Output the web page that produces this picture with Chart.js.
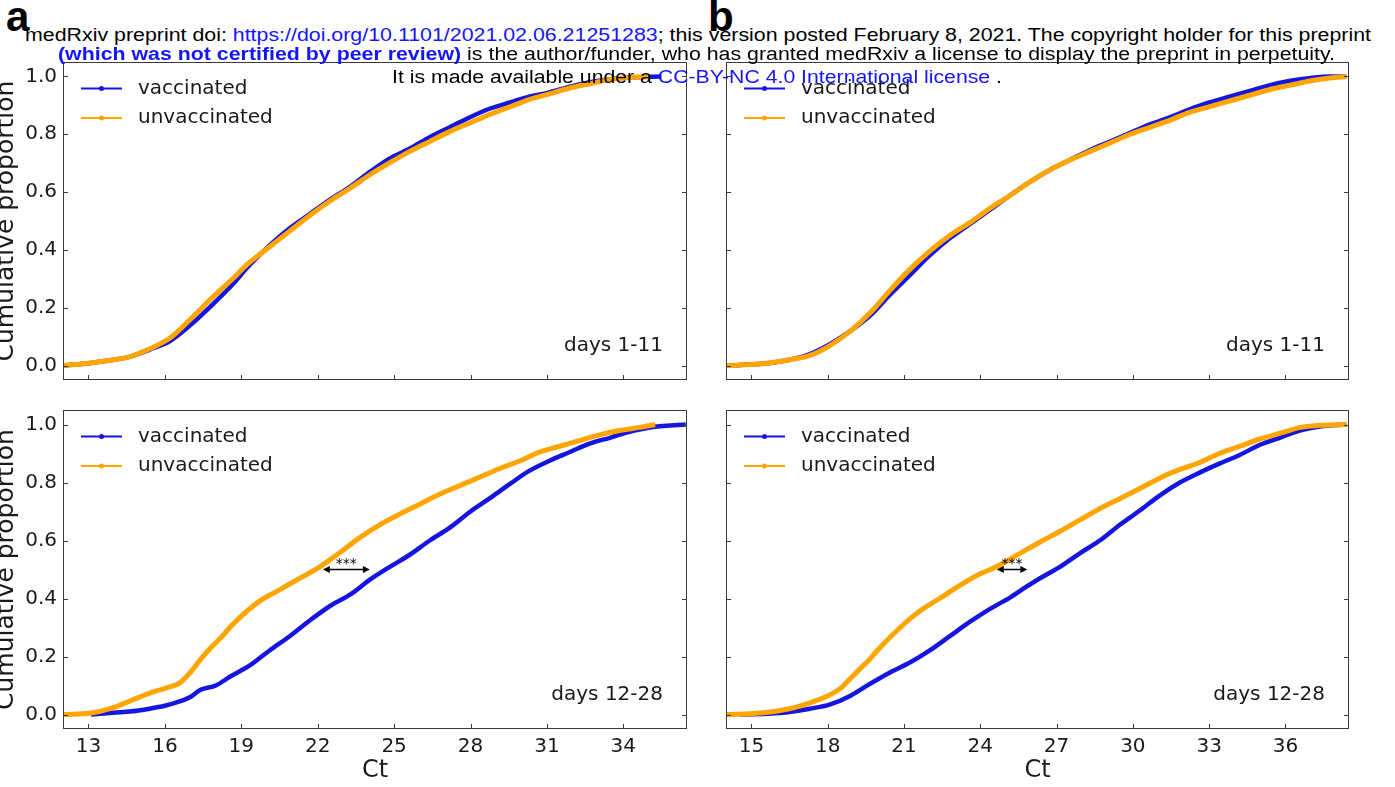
<!DOCTYPE html>
<html>
<head>
<meta charset="utf-8">
<script src="https://cdn.jsdelivr.net/npm/chart.js@4"></script>
<style>
html, body { margin: 0; padding: 0; background: #fff; width: 1395px; height: 787px; overflow: hidden; }
.panel { position: absolute; }
.hdr { position: absolute; white-space: nowrap; font-family: 'Liberation Sans', Arial, sans-serif; font-size: 18px; line-height: 18px; color: #000; transform-origin: 0 0; z-index: 5; }
.hdr .lnk { color: #1414ff; }
.hdr b { color: #1414ff; }
.tag { position: absolute; font-family: 'Liberation Sans', Arial, sans-serif; font-weight: bold; font-size: 42px; line-height: 42px; color: #000; z-index: 6; }
</style>
</head>
<body>
<div class="tag" style="left:6px;top:-4px;">a</div>
<div class="tag" style="left:708px;top:-4px;">b</div>
<div class="hdr" id="line1" style="left:25px;top:26px;">medRxiv preprint doi: <span class="lnk">https://doi.org/10.1101/2021.02.06.21251283</span>; this version posted February 8, 2021. The copyright holder for this preprint</div>
<div class="hdr" id="line2" style="left:58px;top:45px;"><b>(which was not certified by peer review)</b> is the author/funder, who has granted medRxiv a license to display the preprint in perpetuity.</div>
<div class="hdr" id="line3" style="left:392px;top:68px;">It is made available under a <span class="lnk">CC-BY-NC 4.0 International license</span> .</div>

<canvas id="chartA1" class="panel" width="700" height="338" style="left:-4px;top:52px;"></canvas>
<canvas id="chartA2" class="panel" width="700" height="385" style="left:-4px;top:400px;"></canvas>
<canvas id="chartB1" class="panel" width="645" height="338" style="left:716px;top:52px;"></canvas>
<canvas id="chartB2" class="panel" width="645" height="385" style="left:716px;top:400px;"></canvas>

<script>
// tick values
const yTicks = [0, 0.2, 0.4, 0.6, 0.8, 1.0];
const xTicksA = [13, 16, 19, 22, 25, 28, 31, 34];
const xTicksB = [15, 18, 21, 24, 27, 30, 33, 36];

// panel a, days 1-11  [Ct, cumulative proportion]
const aEarlyVac = [[12.0,0.0],[13.0,0.008],[14.0,0.02],[14.6,0.03],[15.4,0.055],[16.2,0.085],[17.0,0.14],[17.8,0.205],[18.6,0.275],[19.3,0.345],[20.1,0.415],[20.9,0.475],[21.7,0.525],[22.5,0.575],[23.3,0.62],[24.05,0.67],[24.8,0.715],[25.6,0.75],[26.4,0.79],[27.2,0.825],[28.0,0.86],[28.8,0.89],[29.55,0.91],[30.3,0.93],[31.1,0.945],[31.9,0.965],[32.7,0.98],[33.5,0.99],[34.3,0.997],[35.5,1.0]];
const aEarlyUnvac = [[12.0,0.0],[13.0,0.008],[14.0,0.02],[14.6,0.03],[15.4,0.058],[16.2,0.095],[17.0,0.16],[17.8,0.23],[18.6,0.295],[19.3,0.355],[20.1,0.41],[20.9,0.465],[21.7,0.52],[22.5,0.57],[23.3,0.615],[24.05,0.66],[24.8,0.70],[25.6,0.74],[26.4,0.775],[27.2,0.81],[28.0,0.84],[28.8,0.87],[29.55,0.895],[30.3,0.92],[31.1,0.94],[31.9,0.96],[32.7,0.975],[33.5,0.99],[34.3,0.997],[35.0,1.0]];

// panel a, days 12-28
const aLateVac = [[13.1,0.0],[13.85,0.005],[14.6,0.01],[15.4,0.02],[16.0,0.03],[16.4,0.04],[17.0,0.06],[17.4,0.085],[18.0,0.10],[18.55,0.13],[19.35,0.17],[20.1,0.22],[20.9,0.27],[21.7,0.325],[22.5,0.375],[23.3,0.415],[24.05,0.465],[24.85,0.51],[25.6,0.55],[26.4,0.60],[27.2,0.645],[28.0,0.70],[28.75,0.745],[29.55,0.795],[30.3,0.84],[31.1,0.875],[31.9,0.905],[32.7,0.935],[33.5,0.955],[34.25,0.975],[35.05,0.99],[36.45,1.0]];
const aLateUnvac = [[12.0,0.0],[13.1,0.005],[13.85,0.02],[14.45,0.04],[15.0,0.06],[15.6,0.08],[16.2,0.095],[16.6,0.11],[17.0,0.145],[17.4,0.19],[17.8,0.23],[18.2,0.265],[18.55,0.30],[18.95,0.335],[19.7,0.39],[20.5,0.43],[21.3,0.47],[22.1,0.51],[22.9,0.56],[23.65,0.61],[24.45,0.655],[25.2,0.69],[26.0,0.725],[26.8,0.76],[27.6,0.79],[28.4,0.82],[29.2,0.85],[29.95,0.875],[30.7,0.905],[31.5,0.925],[32.3,0.945],[33.1,0.965],[33.9,0.98],[34.65,0.99],[35.25,1.0]];

// panel b, days 1-11
const bEarlyVac = [[14.0,0.0],[15.3,0.005],[16.5,0.02],[17.3,0.04],[18.1,0.075],[18.9,0.12],[19.7,0.175],[20.45,0.245],[21.2,0.31],[22.0,0.38],[22.8,0.44],[23.6,0.49],[24.4,0.54],[25.2,0.59],[25.95,0.635],[26.7,0.675],[27.5,0.71],[28.3,0.745],[29.1,0.775],[29.9,0.805],[30.7,0.835],[31.5,0.86],[32.2,0.885],[33.0,0.91],[33.8,0.93],[34.6,0.95],[35.4,0.97],[36.2,0.985],[37.0,0.995],[37.75,1.0],[38.4,1.0]];
const bEarlyUnvac = [[14.0,0.0],[15.3,0.005],[16.5,0.02],[17.3,0.035],[18.1,0.07],[18.9,0.12],[19.7,0.185],[20.45,0.26],[21.2,0.33],[22.0,0.395],[22.8,0.45],[23.6,0.495],[24.4,0.545],[25.2,0.59],[25.95,0.635],[26.7,0.675],[27.5,0.71],[28.3,0.74],[29.1,0.77],[29.9,0.80],[30.7,0.825],[31.5,0.85],[32.2,0.875],[33.0,0.895],[33.8,0.915],[34.6,0.935],[35.4,0.955],[36.2,0.97],[37.0,0.985],[37.75,0.995],[38.4,1.0]];

// panel b, days 12-28
const bLateVac = [[14.55,0.0],[16.1,0.005],[17.3,0.02],[18.1,0.035],[18.9,0.065],[19.65,0.105],[20.45,0.145],[21.25,0.18],[22.0,0.22],[22.8,0.27],[23.6,0.32],[24.4,0.365],[25.2,0.405],[25.8,0.44],[26.35,0.47],[27.15,0.51],[27.9,0.555],[28.7,0.60],[29.5,0.655],[30.3,0.705],[31.05,0.755],[31.85,0.80],[32.65,0.835],[33.4,0.865],[34.2,0.895],[35.0,0.93],[35.8,0.955],[36.6,0.98],[37.35,0.993],[38.4,1.0]];
const bLateUnvac = [[14.0,0.0],[15.35,0.005],[16.5,0.02],[17.3,0.04],[17.9,0.06],[18.5,0.09],[18.9,0.125],[19.3,0.16],[19.65,0.19],[20.05,0.23],[20.85,0.30],[21.6,0.355],[22.4,0.40],[23.2,0.445],[24.0,0.485],[24.65,0.51],[25.55,0.555],[26.35,0.595],[27.1,0.63],[27.9,0.67],[28.7,0.71],[29.5,0.745],[30.3,0.78],[31.05,0.815],[31.85,0.845],[32.65,0.87],[33.4,0.90],[34.2,0.925],[35.0,0.95],[35.8,0.97],[36.6,0.99],[37.35,0.997],[38.4,1.0]];

// significance arrows at proportion 0.5 (Ct from, Ct to)
const arrowA = [22.2, 24.05];
const arrowB = [24.65, 25.85];

const BLUE = '#1515e0';
const ORANGE = '#ffa500';
const TEXT = '#1a1a1a';
const FONT = "'DejaVu Sans', sans-serif";

const framePlugin = {
    id: 'frame',
    afterDatasetsDraw(chart, args, opts) {
        const { ctx, chartArea: a } = chart;
        const x = chart.scales.x, y = chart.scales.y;
        ctx.save();

        // box and inward ticks
        ctx.strokeStyle = '#3a3a3a';
        ctx.lineWidth = 1;
        ctx.strokeRect(a.left + 0.5, a.top + 0.5, a.right - a.left - 1, a.bottom - a.top - 1);
        ctx.beginPath();
        x.ticks.forEach(t => {
            const px = Math.round(x.getPixelForValue(t.value)) + 0.5;
            ctx.moveTo(px, a.bottom);
            ctx.lineTo(px, a.bottom - 5);
        });
        y.ticks.forEach(t => {
            const py = Math.round(y.getPixelForValue(t.value)) + 0.5;
            ctx.moveTo(a.left, py);
            ctx.lineTo(a.left + 5, py);
            ctx.moveTo(a.right, py);
            ctx.lineTo(a.right - 5, py);
        });
        ctx.stroke();

        // legend, matplotlib style
        const entries = chart.data.datasets.slice().sort((p, q) => p.legendRank - q.legendRank);
        ctx.font = '20px ' + FONT;
        ctx.textBaseline = 'middle';
        ctx.textAlign = 'left';
        entries.forEach((ds, i) => {
            const ly = a.top + 26.5 + i * 29.5;
            ctx.strokeStyle = ds.borderColor;
            ctx.lineWidth = 2;
            ctx.beginPath();
            ctx.moveTo(a.left + 18, ly);
            ctx.lineTo(a.left + 59, ly);
            ctx.stroke();
            ctx.fillStyle = ds.borderColor;
            ctx.beginPath();
            ctx.arc(a.left + 38.5, ly, 2.5, 0, Math.PI * 2);
            ctx.fill();
            ctx.fillStyle = TEXT;
            ctx.fillText(ds.label, a.left + 75, ly);
        });

        // period label
        ctx.textAlign = 'right';
        ctx.fillText(opts.period, a.right - 24, a.bottom - 34);

        // significance arrow
        if (opts.arrow) {
            const x1 = x.getPixelForValue(opts.arrow[0]);
            const x2 = x.getPixelForValue(opts.arrow[1]);
            const ay = y.getPixelForValue(0.5);
            ctx.strokeStyle = '#000';
            ctx.fillStyle = '#000';
            ctx.lineWidth = 1.5;
            ctx.beginPath();
            ctx.moveTo(x1 + 4, ay);
            ctx.lineTo(x2 - 4, ay);
            ctx.stroke();
            [[x1, 1], [x2, -1]].forEach(([hx, dir]) => {
                ctx.beginPath();
                ctx.moveTo(hx, ay);
                ctx.lineTo(hx + dir * 7, ay - 3.5);
                ctx.lineTo(hx + dir * 7, ay + 3.5);
                ctx.closePath();
                ctx.fill();
            });
            ctx.font = '14px ' + FONT;
            ctx.textAlign = 'center';
            ctx.textBaseline = 'alphabetic';
            ctx.fillText('***', (x1 + x2) / 2, ay - 2);
        }
        ctx.restore();
    }
};

function toPoints(list) {
    return list.map(([ct, p]) => ({ x: ct, y: p }));
}

function buildPanel(canvasId, cfg) {
    const ctx = document.getElementById(canvasId).getContext('2d');
    return new Chart(ctx, {
        type: 'line',
        data: {
            datasets: [
                {
                    label: 'unvaccinated',
                    data: toPoints(cfg.unvac),
                    borderColor: ORANGE,
                    backgroundColor: ORANGE,
                    borderWidth: 5,
                    pointRadius: 0,
                    cubicInterpolationMode: 'monotone',
                    order: 0,
                    legendRank: 1
                },
                {
                    label: 'vaccinated',
                    data: toPoints(cfg.vac),
                    borderColor: BLUE,
                    backgroundColor: BLUE,
                    borderWidth: 4.5,
                    pointRadius: 0,
                    cubicInterpolationMode: 'monotone',
                    order: 1,
                    legendRank: 0
                }
            ]
        },
        options: {
            responsive: false,
            animation: false,
            events: [],
            layout: { padding: cfg.padding },
            scales: {
                x: {
                    type: 'linear',
                    min: cfg.xMin,
                    max: cfg.xMax,
                    afterBuildTicks: s => { s.ticks = cfg.xTicks.map(v => ({ value: v })); },
                    afterFit: s => {
                        s.height = cfg.showX ? 56 : 0;
                        s.paddingLeft = 0; s.paddingRight = 0;
                        s.paddingTop = 0; s.paddingBottom = 0;
                    },
                    grid: { display: false, drawTicks: false },
                    border: { display: false },
                    ticks: {
                        display: cfg.showX,
                        autoSkip: false,
                        maxRotation: 0,
                        padding: 6,
                        color: TEXT,
                        font: { family: FONT, size: 20 },
                        callback: v => String(v)
                    },
                    title: {
                        display: cfg.showX,
                        text: 'Ct',
                        color: TEXT,
                        padding: 0,
                        font: { family: FONT, size: 24 }
                    }
                },
                y: {
                    type: 'linear',
                    min: -0.05,
                    max: 1.05,
                    afterBuildTicks: s => { s.ticks = yTicks.map(v => ({ value: v })); },
                    afterFit: s => {
                        s.width = cfg.yWidth;
                        s.paddingLeft = 0; s.paddingRight = 0;
                        s.paddingTop = 0; s.paddingBottom = 0;
                    },
                    grid: { display: false, drawTicks: false },
                    border: { display: false },
                    ticks: {
                        display: cfg.showY,
                        padding: 6,
                        color: TEXT,
                        font: { family: FONT, size: 20 },
                        callback: v => Number(v).toFixed(1)
                    },
                    title: {
                        display: cfg.showY,
                        text: 'Cumulative proportion',
                        color: TEXT,
                        padding: { top: -5, bottom: 0 },
                        font: { family: FONT, size: 25 }
                    }
                }
            },
            plugins: {
                legend: { display: false },
                tooltip: { enabled: false },
                frame: { period: cfg.period, arrow: cfg.arrow }
            }
        },
        plugins: [framePlugin]
    });
}

buildPanel('chartA1', {
    vac: aEarlyVac, unvac: aEarlyUnvac, xMin: 12, xMax: 36.5, xTicks: xTicksA,
    showX: false, showY: true, yWidth: 67, period: 'days 1-11',
    padding: { top: 10, bottom: 10, left: 0, right: 9 }
});
buildPanel('chartA2', {
    vac: aLateVac, unvac: aLateUnvac, xMin: 12, xMax: 36.5, xTicks: xTicksA,
    showX: true, showY: true, yWidth: 67, period: 'days 12-28', arrow: arrowA,
    padding: { top: 10, bottom: 0, left: 0, right: 9 }
});
buildPanel('chartB1', {
    vac: bEarlyVac, unvac: bEarlyUnvac, xMin: 14, xMax: 38.5, xTicks: xTicksB,
    showX: false, showY: false, yWidth: 0, period: 'days 1-11',
    padding: { top: 10, bottom: 10, left: 10, right: 12 }
});
buildPanel('chartB2', {
    vac: bLateVac, unvac: bLateUnvac, xMin: 14, xMax: 38.5, xTicks: xTicksB,
    showX: true, showY: false, yWidth: 0, period: 'days 12-28', arrow: arrowB,
    padding: { top: 10, bottom: 0, left: 10, right: 12 }
});

// stretch the preprint banner lines to their widths in the reference
function fitLine(id, width) {
    const el = document.getElementById(id);
    const w = el.getBoundingClientRect().width;
    if (w > 0) el.style.transform = 'scaleX(' + (width / w) + ')';
}
fitLine('line1', 1346);
fitLine('line2', 1277);
fitLine('line3', 610);
</script>
</body>
</html>
